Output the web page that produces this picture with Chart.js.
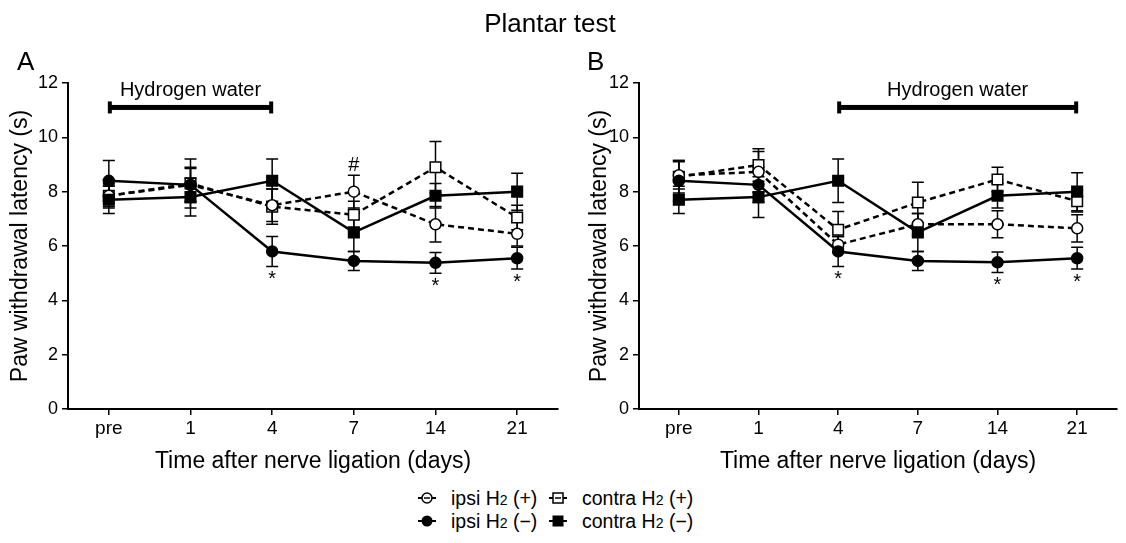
<!DOCTYPE html>
<html>
<head>
<meta charset="utf-8">
<script src="https://cdn.jsdelivr.net/npm/chart.js@4.4.1/dist/chart.umd.min.js"></script>
<style>
  body { margin: 0; width: 1126px; height: 543px; background: #fff; color: #000;
         font-family: "Liberation Sans", Arial, sans-serif; position: relative; overflow: hidden; }
  #title { position: absolute; top: 8px; left: 0; width: 1100px; text-align: center; font-size: 26px; line-height: 30px; }
  .letter { position: absolute; top: 46px; font-size: 26px; line-height: 30px; }
  #wrapA { position: absolute; left: 0; top: 0; }
  #wrapB { position: absolute; left: 579px; top: 0; }
  .item { position: absolute; font-size: 19.5px; line-height: 22px; white-space: nowrap; }
  .item svg { position: absolute; left: -34px; top: 3px; }
  .sub { font-size: 14px; }
</style>
</head>
<body>
<div id="wrapA"><canvas id="chartA" width="570" height="480"></canvas></div>
<div id="wrapB"><canvas id="chartB" width="547" height="480"></canvas></div>
<div id="title">Plantar test</div>
<div class="letter" style="left:17px">A</div>
<div class="letter" style="left:587px">B</div>

<div class="item" style="left:451px; top:487px">
  <svg width="20" height="16"><line x1="1" y1="8" x2="19" y2="8" stroke="#000" stroke-width="2"/><circle cx="10" cy="8" r="5" fill="#fff" stroke="#000" stroke-width="1.5"/><line x1="7" y1="8" x2="13" y2="8" stroke="#000" stroke-width="1.5"/></svg>
  ipsi H<span class="sub">2</span> (+)
</div>
<div class="item" style="left:451px; top:510px">
  <svg width="20" height="16"><line x1="1" y1="8" x2="19" y2="8" stroke="#000" stroke-width="2"/><circle cx="10" cy="8" r="5.5" fill="#000"/></svg>
  ipsi H<span class="sub">2</span> (&minus;)
</div>
<div class="item" style="left:582px; top:487px">
  <svg width="20" height="16"><line x1="1" y1="8" x2="19" y2="8" stroke="#000" stroke-width="2"/><rect x="5" y="3" width="10" height="10" fill="#fff" stroke="#000" stroke-width="1.5"/><line x1="7" y1="8" x2="13" y2="8" stroke="#000" stroke-width="1.5"/></svg>
  contra H<span class="sub">2</span> (+)
</div>
<div class="item" style="left:582px; top:510px">
  <svg width="20" height="16"><line x1="1" y1="8" x2="19" y2="8" stroke="#000" stroke-width="2"/><rect x="4.5" y="2.5" width="11" height="11" fill="#000"/></svg>
  contra H<span class="sub">2</span> (&minus;)
</div>

<script>
// categories and ticks
const days = ['pre', '1', '4', '7', '14', '21'];
const yTicks = [0, 2, 4, 6, 8, 10, 12];

// Panel A (hydrogen water pre -> day 4)
const ipsiPlusA = [7.85, 8.25, 7.5, 8.0, 6.8, 6.45];
const ipsiPlusAErr = [0.45, 0.6, 0.6, 0.6, 0.65, 0.45];
const contraPlusA = [7.85, 8.3, 7.45, 7.15, 8.9, 7.05];
const contraPlusAErr = [0.4, 0.9, 0.65, 0.5, 0.95, 0.45];
const ipsiMinusA = [8.4, 8.25, 5.8, 5.45, 5.38, 5.55];
const ipsiMinusAErr = [0.75, 0.65, 0.55, 0.35, 0.38, 0.4];
const contraMinusA = [7.7, 7.8, 8.4, 6.5, 7.85, 8.0];
const contraMinusAErr = [0.5, 0.7, 0.8, 0.7, 0.45, 0.68];
const starsA = ['', '', '*', '', '*', '*'];
const hashA = ['', '', '', '#', '', ''];
const hydrogenA = ['pre', '4'];

// Panel B (hydrogen water day 4 -> day 21)
const ipsiPlusB = [8.6, 8.73, 6.05, 6.8, 6.8, 6.65];
const ipsiPlusBErr = [0.5, 0.75, 0.3, 0.4, 0.5, 0.5];
const contraPlusB = [8.55, 8.98, 6.6, 7.6, 8.45, 7.65];
const contraPlusBErr = [0.6, 0.6, 0.67, 0.75, 0.45, 0.4];
const ipsiMinusB = [8.4, 8.25, 5.8, 5.45, 5.4, 5.55];
const ipsiMinusBErr = [0.75, 0.65, 0.55, 0.35, 0.38, 0.4];
const contraMinusB = [7.7, 7.8, 8.4, 6.5, 7.85, 8.0];
const contraMinusBErr = [0.5, 0.75, 0.8, 0.7, 0.45, 0.7];
const starsB = ['', '', '*', '', '*', '*'];
const hydrogenB = ['4', '21'];

const FONT = '"Liberation Sans", Arial, sans-serif';

// error bars under the markers
const errorBars = {
    id: 'errorBars',
    beforeDatasetsDraw(chart) {
        const ctx = chart.ctx;
        const y = chart.scales.y;
        ctx.save();
        ctx.strokeStyle = '#000';
        ctx.lineWidth = 1.5;
        chart.data.datasets.forEach((ds, di) => {
            const meta = chart.getDatasetMeta(di);
            meta.data.forEach((pt, i) => {
                const top = y.getPixelForValue(ds.data[i] + ds.err[i]);
                const bot = y.getPixelForValue(ds.data[i] - ds.err[i]);
                ctx.beginPath();
                ctx.moveTo(pt.x, top); ctx.lineTo(pt.x, bot);
                ctx.moveTo(pt.x - 6, top); ctx.lineTo(pt.x + 6, top);
                ctx.moveTo(pt.x - 6, bot); ctx.lineTo(pt.x + 6, bot);
                ctx.stroke();
            });
        });
        ctx.restore();
    }
};

// hydrogen water bar, stars and hash
const extras = {
    id: 'extras',
    afterDatasetsDraw(chart, args, opts) {
        const ctx = chart.ctx;
        const x = chart.scales.x, y = chart.scales.y;
        ctx.save();
        const x1 = x.getPixelForValue(days.indexOf(opts.hydrogen[0]));
        const x2 = x.getPixelForValue(days.indexOf(opts.hydrogen[1]));
        const yb = y.getPixelForValue(11.1);
        ctx.fillStyle = '#000';
        ctx.fillRect(x1, yb - 2.5, x2 - x1, 5);
        ctx.fillRect(x1 - 1, yb - 6, 4, 12);
        ctx.fillRect(x2 - 3, yb - 6, 4, 12);
        ctx.font = '20px ' + FONT;
        ctx.textAlign = 'center';
        ctx.textBaseline = 'middle';
        ctx.fillText('Hydrogen water', (x1 + x2) / 2, y.getPixelForValue(11.72));

        chart.data.datasets.forEach((ds, di) => {
            const meta = chart.getDatasetMeta(di);
            if (ds.stars) {
                ctx.textBaseline = 'top';
                ds.stars.forEach((s, i) => {
                    if (!s) return;
                    ctx.fillText(s, meta.data[i].x, y.getPixelForValue(ds.data[i] - ds.err[i]) + 3);
                });
            }
            if (ds.hash) {
                ctx.textBaseline = 'alphabetic';
                ds.hash.forEach((s, i) => {
                    if (!s) return;
                    ctx.fillText(s, meta.data[i].x, y.getPixelForValue(ds.data[i] + ds.err[i]) - 4);
                });
            }
        });
        ctx.restore();
    }
};

function series(values, err, filled, dashed, style, radius) {
    return {
        data: values,
        err: err,
        borderColor: '#000',
        borderWidth: 2.5,
        borderDash: dashed ? [6, 4] : [],
        pointStyle: style,
        pointRadius: radius,
        pointBorderWidth: 1.5,
        pointBorderColor: '#000',
        pointBackgroundColor: filled ? '#000' : '#fff',
        tension: 0,
        clip: false
    };
}

function makeChart(id, sets, hydrogen, yWidth, rightPad) {
    new Chart(document.getElementById(id), {
        type: 'line',
        data: { labels: days, datasets: sets },
        options: {
            responsive: false,
            animation: false,
            devicePixelRatio: 1,
            layout: { padding: { top: 83, right: rightPad, left: 0, bottom: 0 } },
            plugins: {
                legend: { display: false },
                tooltip: { enabled: false },
                extras: { hydrogen: hydrogen }
            },
            scales: {
                x: {
                    type: 'category',
                    offset: true,
                    border: { color: '#000', width: 2 },
                    grid: { drawOnChartArea: false, color: '#000', lineWidth: 1.5, tickLength: 6 },
                    ticks: { color: '#000', font: { family: FONT, size: 19 }, padding: 2, maxRotation: 0 },
                    title: { display: true, text: 'Time after nerve ligation (days)', color: '#000',
                             font: { family: FONT, size: 23 }, padding: { top: 0, bottom: 5 } },
                    afterFit: s => { s.height = 71; }
                },
                y: {
                    min: 0, max: 12,
                    afterBuildTicks: s => { s.ticks = yTicks.map(v => ({ value: v })); },
                    border: { color: '#000', width: 2 },
                    grid: { drawOnChartArea: false, color: '#000', lineWidth: 1.5, tickLength: 6 },
                    ticks: { color: '#000', font: { family: FONT, size: 18 }, padding: 4 },
                    title: { display: true, text: 'Paw withdrawal latency (s)', color: '#000',
                             font: { family: FONT, size: 23 }, padding: { top: 7, bottom: 0 } },
                    afterFit: s => { s.width = yWidth; }
                }
            }
        },
        plugins: [errorBars, extras]
    });
}

const setsA = [
    Object.assign(series(ipsiMinusA, ipsiMinusAErr, true, false, 'circle', 5.5), { stars: starsA }),
    series(contraMinusA, contraMinusAErr, true, false, 'rect', 7.5),
    Object.assign(series(ipsiPlusA, ipsiPlusAErr, false, true, 'circle', 5.5), { hash: hashA }),
    series(contraPlusA, contraPlusAErr, false, true, 'rect', 7.5)
];
const setsB = [
    Object.assign(series(ipsiMinusB, ipsiMinusBErr, true, false, 'circle', 5.5), { stars: starsB }),
    series(contraMinusB, contraMinusBErr, true, false, 'rect', 7.5),
    series(ipsiPlusB, ipsiPlusBErr, false, true, 'circle', 5.5),
    series(contraPlusB, contraPlusBErr, false, true, 'rect', 7.5)
];

makeChart('chartA', setsA, hydrogenA, 68, 12);
makeChart('chartB', setsB, hydrogenB, 60, 1);
</script>
</body>
</html>
